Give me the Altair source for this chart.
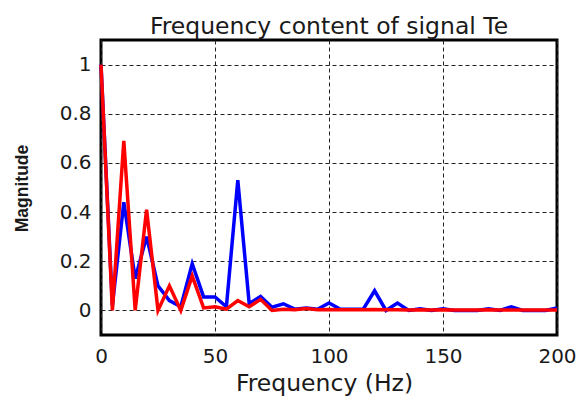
import altair as alt
import pandas as pd

freqs = list(range(0, 205, 5))

blue_mag = [1.0, 0.02, 0.44, 0.13, 0.30, 0.10, 0.04, 0.015, 0.19, 0.055,
            0.055, 0.015, 0.53, 0.027, 0.057, 0.013, 0.027, 0.005, 0.01, 0.005,
            0.03, 0.005, 0.005, 0.005, 0.08, 0.0, 0.03, 0.0, 0.007, 0.0,
            0.007, 0.0, 0.0, 0.0, 0.007, 0.0, 0.015, 0.0, 0.0, 0.0, 0.01]

red_mag = [1.0, 0.0, 0.69, 0.0, 0.41, 0.0, 0.10, 0.0, 0.14, 0.01,
           0.015, 0.005, 0.04, 0.015, 0.045, 0.0, 0.005, 0.003, 0.008, 0.003,
           0.004, 0.003, 0.003, 0.003, 0.004, 0.003, 0.003, 0.002, 0.003, 0.002,
           0.003, 0.002, 0.002, 0.002, 0.003, 0.002, 0.002, 0.002, 0.002, 0.002, 0.002]

x_ticks = [0, 50, 100, 150, 200]
y_ticks = [0, 0.2, 0.4, 0.6, 0.8, 1.0]

df_blue = pd.DataFrame({"f": freqs, "m": blue_mag})
df_red = pd.DataFrame({"f": freqs, "m": red_mag})

x_enc = alt.X(
    "f:Q",
    scale=alt.Scale(domain=[0, 200], nice=False, zero=False),
    axis=alt.Axis(
        values=x_ticks, title="Frequency (Hz)", grid=True, gridDash=[4, 3],
        gridColor="#222", gridWidth=1, domain=False, ticks=False, tickSize=0,
        labelFont="DejaVu Sans", labelFontSize=20, labelColor="#1a1a1a",
        labelPadding=27, labelBaseline="alphabetic", labelFlush=False,
        titleFont="DejaVu Sans", titleFontSize=23.5, titleFontWeight="normal",
        titleColor="#1a1a1a", titleX=223, titleY=55, titleBaseline="alphabetic",
        titleAlign="center",
    ),
)
y_enc = alt.Y(
    "m:Q",
    scale=alt.Scale(domain=[-0.1, 1.1], nice=False, zero=False),
    axis=alt.Axis(
        values=y_ticks, format=".1~f", title="Magnitude", grid=True, gridDash=[4, 3],
        gridColor="#222", gridWidth=1, domain=False, ticks=False, tickSize=0,
        labelFont="DejaVu Sans", labelFontSize=20, labelColor="#1a1a1a",
        labelPadding=10, labelFlush=False,
        titleFont="Liberation Sans", titleFontSize=17.5, titleFontWeight="bold",
        titleColor="#1a1a1a", titleX=-79, titleY=148, titleAngle=270,
        titleAlign="center", titleBaseline="middle",
    ),
)

blue = alt.Chart(df_blue).mark_line(color="#0000ff", strokeWidth=3.5).encode(x=x_enc, y=y_enc)
red = alt.Chart(df_red).mark_line(color="#ff0000", strokeWidth=3.5).encode(x=x_enc, y=y_enc)

chart = (
    alt.layer(blue, red)
    .properties(
        width=456, height=295,
        title=alt.TitleParams(
            "Frequency content of signal Te", font="DejaVu Sans", fontSize=23.5,
            fontWeight="normal", color="#1a1a1a", anchor="middle", offset=12,
            baseline="alphabetic", dy=29,
        ),
        autosize=alt.AutoSizeParams(type="none"),
        padding={"left": 101, "top": 40, "right": 30, "bottom": 61},
    )
    .configure(background="white")
    .configure_view(stroke="black", strokeWidth=3)
)

chart.save("out.html", embed_options={"renderer": "svg", "actions": False})
